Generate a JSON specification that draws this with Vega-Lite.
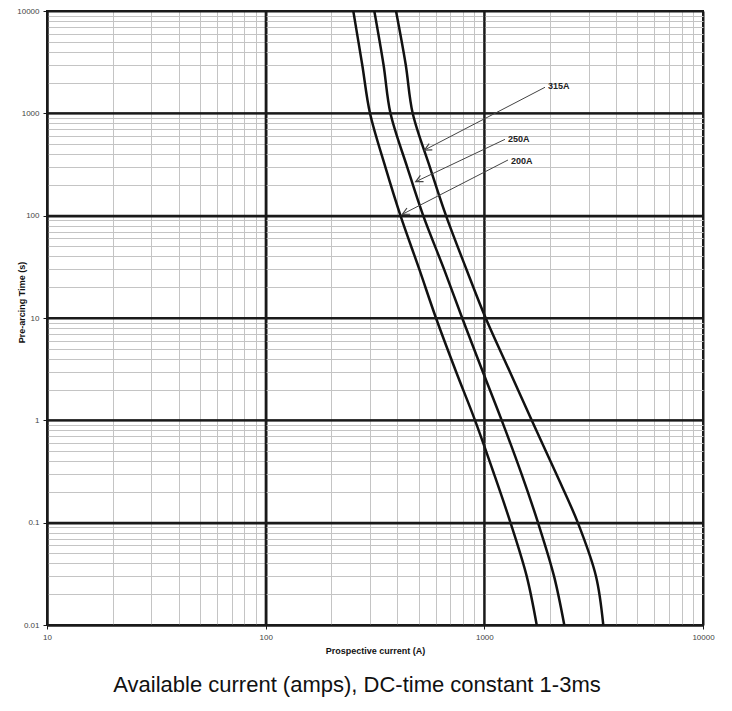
{
  "$schema": "https://vega.github.io/schema/vega-lite/v6.json",
  "width": 656,
  "height": 614,
  "autosize": {"type": "none"},
  "padding": {"left": 47, "top": 11, "right": 29, "bottom": 86},
  "background": "white",
  "config": {"view": {"stroke": "#1a1a1a", "strokeWidth": 2}},
  "title": {
    "text": "Available current (amps), DC-time constant 1-3ms",
    "orient": "bottom",
    "font": "Liberation Sans",
    "fontSize": 22,
    "fontWeight": "normal",
    "color": "#111111",
    "offset": 20,
    "dx": -18
  },
  "datasets": {
    "majorx": [{"current": 100}, {"current": 1000}],
    "majory": [{"time": 0.1}, {"time": 1}, {"time": 10}, {"time": 100}, {"time": 1000}],
    "curves": [
      {"fuse": "200A", "current": 251.6, "time": 10000},
      {"fuse": "200A", "current": 276.3, "time": 3000},
      {"fuse": "200A", "current": 300.0, "time": 1000},
      {"fuse": "200A", "current": 352.5, "time": 300},
      {"fuse": "200A", "current": 413.6, "time": 100},
      {"fuse": "200A", "current": 504.0, "time": 30},
      {"fuse": "200A", "current": 601.1, "time": 10},
      {"fuse": "200A", "current": 742.0, "time": 3},
      {"fuse": "200A", "current": 906.6, "time": 1},
      {"fuse": "200A", "current": 1107, "time": 0.3},
      {"fuse": "200A", "current": 1317, "time": 0.1},
      {"fuse": "200A", "current": 1562, "time": 0.03},
      {"fuse": "200A", "current": 1736, "time": 0.01},
      {"fuse": "250A", "current": 313.9, "time": 10000},
      {"fuse": "250A", "current": 345.8, "time": 3000},
      {"fuse": "250A", "current": 372.2, "time": 1000},
      {"fuse": "250A", "current": 443.5, "time": 300},
      {"fuse": "250A", "current": 525.4, "time": 100},
      {"fuse": "250A", "current": 654.0, "time": 30},
      {"fuse": "250A", "current": 792.0, "time": 10},
      {"fuse": "250A", "current": 983.0, "time": 3},
      {"fuse": "250A", "current": 1201, "time": 1},
      {"fuse": "250A", "current": 1479, "time": 0.3},
      {"fuse": "250A", "current": 1760, "time": 0.1},
      {"fuse": "250A", "current": 2083, "time": 0.03},
      {"fuse": "250A", "current": 2321, "time": 0.01},
      {"fuse": "315A", "current": 394.5, "time": 10000},
      {"fuse": "315A", "current": 436.9, "time": 3000},
      {"fuse": "315A", "current": 470.3, "time": 1000},
      {"fuse": "315A", "current": 563.1, "time": 300},
      {"fuse": "315A", "current": 667.9, "time": 100},
      {"fuse": "315A", "current": 827.8, "time": 30},
      {"fuse": "315A", "current": 1014, "time": 10},
      {"fuse": "315A", "current": 1307, "time": 3},
      {"fuse": "315A", "current": 1647, "time": 1},
      {"fuse": "315A", "current": 2132, "time": 0.3},
      {"fuse": "315A", "current": 2676, "time": 0.1},
      {"fuse": "315A", "current": 3240, "time": 0.03},
      {"fuse": "315A", "current": 3499, "time": 0.01}
    ],
    "labels": [
      {"fuse": "200A", "head_current": 421.6, "head_time": 103.1, "tail_current": 1283, "tail_time": 350, "label_current": 1324, "label_time": 342},
      {"fuse": "250A", "head_current": 485.6, "head_time": 214.8, "tail_current": 1243, "tail_time": 557, "label_current": 1283, "label_time": 561},
      {"fuse": "315A", "head_current": 532.5, "head_time": 438, "tail_current": 1894, "tail_time": 1797, "label_current": 1955, "label_time": 1849}
    ]
  },
  "layer": [
    {
      "data": {"name": "curves"},
      "mark": {"type": "line", "interpolate": "catmull-rom", "color": "#111111", "strokeWidth": 2.5, "clip": true},
      "encoding": {
        "x": {
          "field": "current",
          "type": "quantitative",
          "scale": {"type": "log", "domain": [10, 10000], "nice": false},
          "axis": {
            "values": [10, 20, 30, 40, 50, 60, 70, 80, 90, 100, 200, 300, 400, 500, 600, 700, 800, 900, 1000, 2000, 3000, 4000, 5000, 6000, 7000, 8000, 9000, 10000],
            "grid": true,
            "gridColor": {"condition": {"test": "abs(log(datum.value)/LN10 - round(log(datum.value)/LN10)) < 0.001", "value": "#1a1a1a"}, "value": "#c4c4c4"},
            "gridWidth": {"condition": {"test": "abs(log(datum.value)/LN10 - round(log(datum.value)/LN10)) < 0.001", "value": 2}, "value": 1},
            "tickOpacity": {"condition": {"test": "abs(log(datum.value)/LN10 - round(log(datum.value)/LN10)) < 0.001", "value": 1}, "value": 0},
            "tickColor": "#1a1a1a",
            "tickSize": 4,
            "labelExpr": "abs(log(datum.value)/LN10 - round(log(datum.value)/LN10)) < 0.001 ? '' + datum.value : ''",
            "labelFont": "Liberation Sans",
            "labelFontSize": 8,
            "labelColor": "#444444",
            "labelPadding": 4,
            "labelFlush": false,
            "labelOverlap": false,
            "domainColor": "#1a1a1a",
            "domainWidth": 2,
            "title": "Prospective current (A)",
            "titleFont": "Liberation Sans",
            "titleFontSize": 9,
            "titleFontWeight": "bold",
            "titleColor": "#111111",
            "titlePadding": 5
          }
        },
        "y": {
          "field": "time",
          "type": "quantitative",
          "scale": {"type": "log", "domain": [0.01, 10000], "nice": false},
          "axis": {
            "values": [0.01, 0.02, 0.03, 0.04, 0.05, 0.06, 0.07, 0.08, 0.09, 0.1, 0.2, 0.3, 0.4, 0.5, 0.6, 0.7, 0.8, 0.9, 1, 2, 3, 4, 5, 6, 7, 8, 9, 10, 20, 30, 40, 50, 60, 70, 80, 90, 100, 200, 300, 400, 500, 600, 700, 800, 900, 1000, 2000, 3000, 4000, 5000, 6000, 7000, 8000, 9000, 10000],
            "grid": true,
            "gridColor": {"condition": {"test": "abs(log(datum.value)/LN10 - round(log(datum.value)/LN10)) < 0.001", "value": "#1a1a1a"}, "value": "#c4c4c4"},
            "gridWidth": {"condition": {"test": "abs(log(datum.value)/LN10 - round(log(datum.value)/LN10)) < 0.001", "value": 2}, "value": 1},
            "tickOpacity": {"condition": {"test": "abs(log(datum.value)/LN10 - round(log(datum.value)/LN10)) < 0.001", "value": 1}, "value": 0},
            "tickColor": "#1a1a1a",
            "tickSize": 4,
            "labelExpr": "abs(log(datum.value)/LN10 - round(log(datum.value)/LN10)) < 0.001 ? '' + datum.value : ''",
            "labelFont": "Liberation Sans",
            "labelFontSize": 8,
            "labelColor": "#444444",
            "labelPadding": 4,
            "labelFlush": false,
            "labelOverlap": false,
            "domainColor": "#1a1a1a",
            "domainWidth": 2,
            "title": "Pre-arcing Time (s)",
            "titleFont": "Liberation Sans",
            "titleFontSize": 9,
            "titleFontWeight": "bold",
            "titleColor": "#111111",
            "titleAngle": 270,
            "titleAlign": "center",
            "titleBaseline": "middle",
            "titleX": -26,
            "titleY": 291
          }
        },
        "detail": {"field": "fuse"}
      }
    },
    {
      "data": {"name": "majorx"},
      "mark": {"type": "rule", "color": "#1a1a1a", "strokeWidth": 2},
      "encoding": {
        "x": {"field": "current", "type": "quantitative", "scale": {"type": "log", "domain": [10, 10000], "nice": false}, "title": "Prospective current (A)"}
      }
    },
    {
      "data": {"name": "majory"},
      "mark": {"type": "rule", "color": "#1a1a1a", "strokeWidth": 2},
      "encoding": {
        "y": {"field": "time", "type": "quantitative", "scale": {"type": "log", "domain": [0.01, 10000], "nice": false}, "title": "Pre-arcing Time (s)"}
      }
    },
    {
      "data": {"name": "labels"},
      "mark": {"type": "rule", "color": "#444444", "strokeWidth": 1},
      "encoding": {
        "x": {"field": "head_current", "type": "quantitative", "scale": {"type": "log", "domain": [10, 10000], "nice": false}, "title": "Prospective current (A)"},
        "x2": {"field": "tail_current"},
        "y": {"field": "head_time", "type": "quantitative", "scale": {"type": "log", "domain": [0.01, 10000], "nice": false}, "title": "Pre-arcing Time (s)"},
        "y2": {"field": "tail_time"}
      }
    },
    {
      "data": {"name": "labels"},
      "mark": {"type": "point", "shape": "M -1 -0.5 L 0 0 L -1 0.5", "filled": false, "stroke": "#444444", "strokeWidth": 1.2, "size": 196, "angle": 153, "opacity": 1},
      "encoding": {
        "x": {"field": "head_current", "type": "quantitative", "scale": {"type": "log", "domain": [10, 10000], "nice": false}, "title": "Prospective current (A)"},
        "y": {"field": "head_time", "type": "quantitative", "scale": {"type": "log", "domain": [0.01, 10000], "nice": false}, "title": "Pre-arcing Time (s)"}
      }
    },
    {
      "data": {"name": "labels"},
      "mark": {"type": "text", "align": "left", "baseline": "middle", "font": "Liberation Sans", "fontSize": 9, "fontWeight": "bold", "color": "#222222"},
      "encoding": {
        "x": {"field": "label_current", "type": "quantitative", "scale": {"type": "log", "domain": [10, 10000], "nice": false}, "title": "Prospective current (A)"},
        "y": {"field": "label_time", "type": "quantitative", "scale": {"type": "log", "domain": [0.01, 10000], "nice": false}, "title": "Pre-arcing Time (s)"},
        "text": {"field": "fuse"}
      }
    }
  ]
}
